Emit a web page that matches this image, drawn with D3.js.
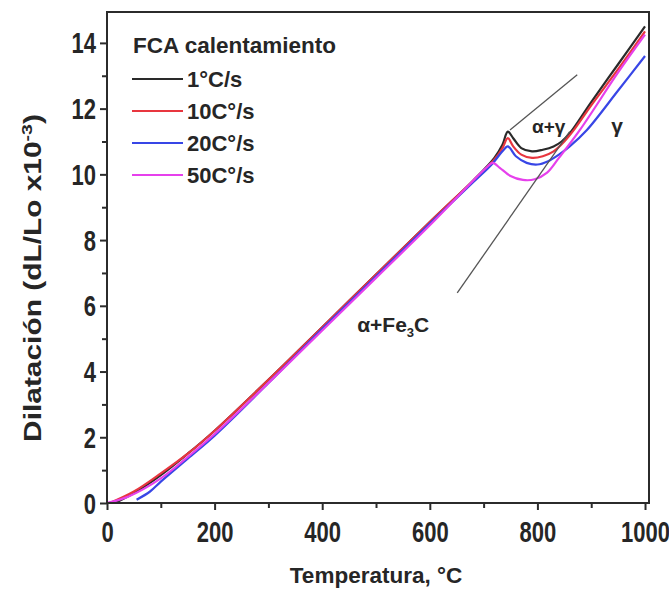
<!DOCTYPE html>
<html>
<head>
<meta charset="utf-8">
<script src="https://cdn.jsdelivr.net/npm/d3@7"></script>
<style>
  html, body { margin: 0; padding: 0; background: #fff; }
  svg { display: block; font-family: "Liberation Sans", Arial, sans-serif; }
</style>
</head>
<body>
<svg id="chart" width="669" height="590"></svg>
<script>
// Dilatometric heating curves of FCA steel at four heating rates
const seriesNames = ["1°C/s", "10C°/s", "20C°/s", "50C°/s"];
const seriesColors = ["#2a2a2a", "#e8363f", "#3846e6", "#e640ec"];

const temp1 = [15, 50, 100, 150, 200, 300, 400, 500, 600, 680, 720, 735, 745, 755, 770, 790, 810, 830, 845, 860, 900, 950, 1000];
const dil1  = [0, 0.3, 0.85, 1.5, 2.2, 3.75, 5.35, 6.95, 8.55, 9.8, 10.5, 10.9, 11.3, 11.1, 10.8, 10.7, 10.75, 10.85, 11.0, 11.25, 12.2, 13.35, 14.5];

const temp10 = [5, 50, 100, 150, 200, 300, 400, 500, 600, 680, 720, 735, 745, 755, 770, 790, 810, 830, 850, 870, 900, 950, 1000];
const dil10  = [0, 0.35, 0.9, 1.5, 2.2, 3.75, 5.35, 6.95, 8.55, 9.8, 10.45, 10.8, 11.1, 10.85, 10.6, 10.5, 10.55, 10.7, 11.0, 11.4, 12.1, 13.2, 14.35];

const temp20 = [55, 80, 100, 150, 200, 300, 400, 500, 600, 680, 715, 735, 745, 760, 780, 800, 820, 840, 860, 892, 950, 1000];
const dil20  = [0.1, 0.35, 0.65, 1.35, 2.05, 3.65, 5.3, 6.9, 8.5, 9.75, 10.3, 10.7, 10.85, 10.55, 10.35, 10.3, 10.4, 10.6, 10.85, 11.35, 12.55, 13.6];

const temp50 = [0, 40, 100, 150, 200, 300, 400, 500, 600, 680, 705, 717, 730, 750, 773, 795, 818, 840, 879, 950, 1000];
const dil50  = [0, 0.2, 0.75, 1.4, 2.1, 3.65, 5.25, 6.85, 8.45, 9.8, 10.2, 10.35, 10.2, 9.95, 9.83, 9.85, 10.05, 10.5, 11.35, 13.1, 14.25];

// Tangent construction lines (temperature, dilatation)
const tangentUpperT = [749, 874];
const tangentUpperD = [11.35, 13.03];
const tangentLowerT = [651, 860];
const tangentLowerD = [6.39, 11.3];

const xTicks = [0, 200, 400, 600, 800, 1000];
const xMinor = [100, 300, 500, 700, 900];
const yTicks = [0, 2, 4, 6, 8, 10, 12, 14];
const yMinor = [1, 3, 5, 7, 9, 11, 13];

const series = [
  { name: seriesNames[0], color: seriesColors[0], T: temp1,  D: dil1 },
  { name: seriesNames[1], color: seriesColors[1], T: temp10, D: dil10 },
  { name: seriesNames[2], color: seriesColors[2], T: temp20, D: dil20 },
  { name: seriesNames[3], color: seriesColors[3], T: temp50, D: dil50 }
];

const svg = d3.select("#chart");
const plotLeft = 107, plotRight = 649, plotTop = 12, plotBottom = 503;

const x = d3.scaleLinear().domain([0, 1007.4]).range([plotLeft, plotRight]);
const y = d3.scaleLinear().domain([0, 14.94]).range([plotBottom, plotTop]);

const axisColor = "#2b2b2b";
const textColor = "#262626";
const stretch = 1.3; // tall, narrow lettering of the tick labels

// Curves (drawn first so the frame sits on top)
const line = d3.line().x(d => x(d[0])).y(d => y(d[1])).curve(d3.curveCatmullRom.alpha(0.5));
const plot = svg.append("g");
plot.append("clipPath").attr("id", "clip").append("rect")
  .attr("x", plotLeft).attr("y", plotTop).attr("width", plotRight - plotLeft).attr("height", plotBottom - plotTop);

const curves = plot.append("g").attr("clip-path", "url(#clip)");
series.forEach(s => {
  curves.append("path")
    .datum(s.T.map((t, i) => [t, s.D[i]]))
    .attr("d", line)
    .attr("fill", "none")
    .attr("stroke", s.color)
    .attr("stroke-width", 2.2)
    .attr("stroke-linejoin", "round");
});

// Tangent lines
[[tangentUpperT, tangentUpperD], [tangentLowerT, tangentLowerD]].forEach(([T, D]) => {
  plot.append("line")
    .attr("x1", x(T[0])).attr("y1", y(D[0]))
    .attr("x2", x(T[1])).attr("y2", y(D[1]))
    .attr("stroke", "#555").attr("stroke-width", 1.3);
});

// Axes
const xAxis = d3.axisBottom(x).tickValues(xTicks).tickSize(7).tickFormat(d3.format("d"));
const yAxis = d3.axisLeft(y).tickValues(yTicks).tickSize(7).tickFormat(d3.format("d"));

const gx = svg.append("g").attr("transform", `translate(0,${plotBottom})`).call(xAxis);
const gy = svg.append("g").attr("transform", `translate(${plotLeft},0)`).call(yAxis);

svg.append("g").attr("transform", `translate(0,${plotBottom})`)
  .call(d3.axisBottom(x).tickValues(xMinor).tickSize(5).tickFormat(""));
svg.append("g").attr("transform", `translate(${plotLeft},0)`)
  .call(d3.axisLeft(y).tickValues(yMinor).tickSize(5).tickFormat(""));

svg.selectAll(".domain").remove();
svg.selectAll(".tick line").attr("stroke", axisColor).attr("stroke-width", 2);

gx.selectAll(".tick text")
  .attr("y", 39 / stretch).attr("dy", 0)
  .attr("transform", `scale(1,${stretch})`);
gy.selectAll(".tick text")
  .attr("x", -11).attr("y", 10 / stretch).attr("dy", 0)
  .attr("transform", `scale(1,${stretch})`);
[gx, gy].forEach(g => g.selectAll(".tick text")
  .attr("fill", textColor)
  .style("font-size", "22px")
  .style("font-weight", "bold"));

// Frame
svg.append("rect")
  .attr("x", plotLeft).attr("y", plotTop)
  .attr("width", plotRight - plotLeft).attr("height", plotBottom - plotTop)
  .attr("fill", "none").attr("stroke", axisColor).attr("stroke-width", 2);

// Axis titles
svg.append("text")
  .attr("x", 376).attr("y", 583)
  .attr("text-anchor", "middle")
  .attr("fill", textColor)
  .style("font-size", "22.5px").style("font-weight", "bold")
  .text("Temperatura, °C");

const yTitle = svg.append("text")
  .attr("transform", `translate(41,278) rotate(-90) scale(1.3,1)`)
  .attr("text-anchor", "middle")
  .attr("fill", textColor)
  .style("font-size", "23px").style("font-weight", "bold");
yTitle.append("tspan").text("Dilatación (dL/Lo x10");
yTitle.append("tspan").attr("dy", -9).style("font-size", "15px").text("-3");
yTitle.append("tspan").attr("dy", 9).text(")");

// Legend
const legend = svg.append("g");
legend.append("text")
  .attr("x", 133).attr("y", 53)
  .attr("fill", textColor)
  .style("font-size", "22.5px").style("font-weight", "bold")
  .text("FCA calentamiento");
series.forEach((s, i) => {
  const ly = 79 + i * 32;
  legend.append("line")
    .attr("x1", 132).attr("x2", 183).attr("y1", ly).attr("y2", ly)
    .attr("stroke", s.color).attr("stroke-width", 2);
  legend.append("text")
    .attr("x", 187).attr("y", ly + 8)
    .attr("fill", textColor)
    .style("font-size", "22px").style("font-weight", "bold")
    .text(s.name);
});

// Phase annotations
const ann = svg.append("g").attr("fill", textColor).style("font-weight", "bold").style("font-size", "21px");
ann.append("text").attr("x", x(821)).attr("y", y(11.25)).style("font-size", "19px").attr("text-anchor", "middle").text("α+γ");
ann.append("text").attr("x", x(948)).attr("y", y(11.25)).attr("text-anchor", "middle").text("γ");
const fe = ann.append("text").attr("x", x(532)).attr("y", y(5.2)).attr("text-anchor", "middle");
fe.append("tspan").text("α+Fe");
fe.append("tspan").attr("dy", 5).style("font-size", "13px").text("3");
fe.append("tspan").attr("dy", -5).text("C");
</script>
</body>
</html>
